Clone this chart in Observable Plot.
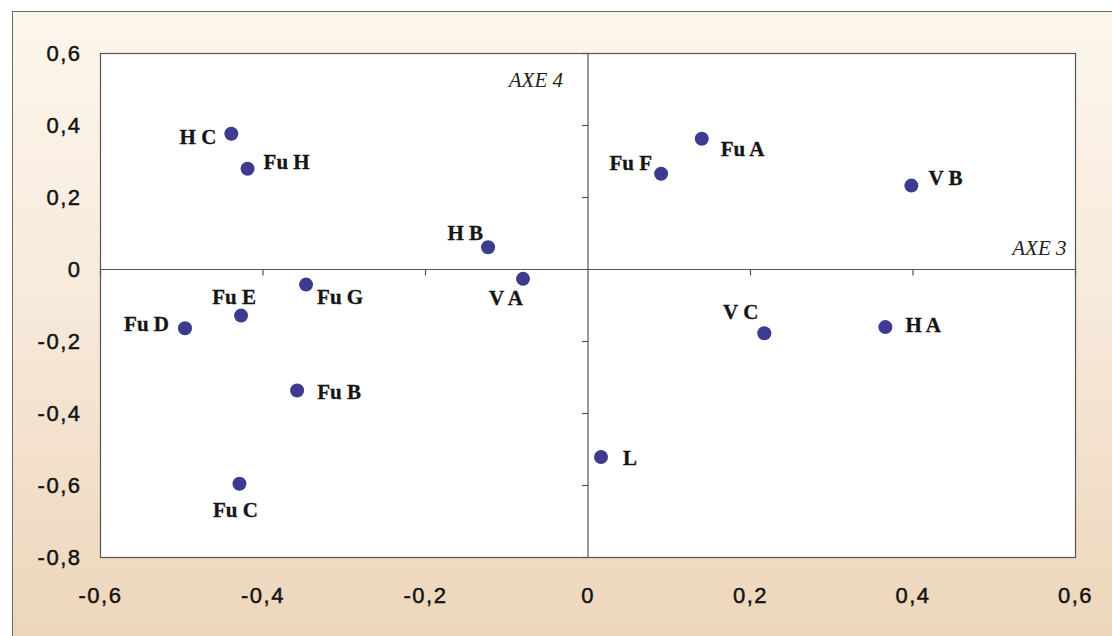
<!DOCTYPE html>
<html>
<head>
<meta charset="utf-8">
<script src="https://cdn.jsdelivr.net/npm/d3@7"></script>
<script src="https://cdn.jsdelivr.net/npm/@observablehq/plot@0.6"></script>
<style>
  html, body { margin: 0; padding: 0; background: #ffffff; overflow: hidden; }
  #wrap { position: relative; width: 1112px; height: 636px; }
  #bg {
    position: absolute; left: 12px; top: 11px; right: -2px; bottom: -2px;
    border-left: 1.5px solid #6a6a6a; border-top: 1.5px solid #6a6a6a;
    background: linear-gradient(to bottom, #fcf6ec 0%, #f7eadb 45%, #edd6bb 100%);
  }
  #chart { position: absolute; left: 0; top: 0; }
  #chart svg g[aria-label="x-axis tick label"] text,
  #chart svg g[aria-label="y-axis tick label"] text { letter-spacing: 1.5px; stroke: #111; stroke-width: 0.45px; }
  #chart svg g.pt-label text { stroke: #151515; stroke-width: 0.3px; }
</style>
</head>
<body>
<div id="wrap"><div id="bg"></div><div id="chart"></div></div>
<script>
// Data: factorial plane, AXE 3 (horizontal) x AXE 4 (vertical)
const names = ["H A","H B","H C","V A","V B","V C","L","Fu A","Fu B","Fu C","Fu D","Fu E","Fu F","Fu G","Fu H"];
const axe3  = [0.366,-0.123,-0.439,-0.080,0.398,0.217,0.016,0.140,-0.358,-0.429,-0.496,-0.427,0.090,-0.347,-0.419];
const axe4  = [-0.160,0.062,0.377,-0.026,0.233,-0.177,-0.521,0.363,-0.336,-0.595,-0.163,-0.128,0.266,-0.042,0.280];
const xTicks = [-0.6,-0.4,-0.2,0,0.2,0.4,0.6];
const yTicks = [-0.8,-0.6,-0.4,-0.2,0,0.2,0.4,0.6];
const axisNames = ["AXE 3","AXE 4"];

// Label placement (layout only): [dx, dy, anchor]
const labelPlacement = {
  "H A": [20, -2, "start"], "H B": [-5, -14, "end"], "H C": [-15, 3, "end"],
  "V A": [0, 19, "end"], "V B": [17, -7, "start"], "V C": [-6, -21, "end"],
  "L": [22, 1, "start"], "Fu A": [19, 10, "start"], "Fu B": [20, 2, "start"],
  "Fu C": [-4, 27, "middle"], "Fu D": [-16, -4, "end"], "Fu E": [-7, -18, "middle"],
  "Fu F": [-9, -10, "end"], "Fu G": [11, 13, "start"], "Fu H": [16, -6, "start"]
};

const points = names.map((n, i) => ({name: n, x: axe3[i], y: axe4[i]}));
const fmt = d => d === 0 ? "0" : d.toFixed(1).replace(".", ",");

const vTick = {draw(ctx) { ctx.moveTo(0, 0); ctx.lineTo(0, 6); }};
const hTick = {draw(ctx) { ctx.moveTo(0, 0); ctx.lineTo(-6, 0); }};

const labelFont = {fontFamily: "'Liberation Serif', 'Times New Roman', serif", fontWeight: "bold", fontSize: 21, fill: "#151515", className: "pt-label"};

const chart = Plot.plot({
  width: 1112,
  height: 636,
  marginLeft: 100,
  marginRight: 37,
  marginTop: 53,
  marginBottom: 79,
  style: {background: "transparent", overflow: "visible", fontSize: "22px", fontFamily: "'Liberation Sans', Arial, sans-serif"},
  x: {domain: [-0.6, 0.6]},
  y: {domain: [-0.8, 0.6]},
  marks: [
    Plot.frame({fill: "white", stroke: "#555", strokeWidth: 1.2}),
    Plot.ruleX([0], {stroke: "#555", strokeWidth: 1.2}),
    Plot.ruleY([0], {stroke: "#555", strokeWidth: 1.2}),
    Plot.dot(xTicks.filter(d => d !== 0), {x: d => d, y: 0, symbol: vTick, stroke: "#555", strokeWidth: 1.2, fill: "none"}),
    Plot.dot(yTicks.filter(d => d !== 0), {x: 0, y: d => d, symbol: hTick, stroke: "#555", strokeWidth: 1.2, fill: "none"}),
    Plot.axisX(xTicks, {tickSize: 0, tickPadding: 30, tickFormat: fmt, label: null, fill: "#111"}),
    Plot.axisY(yTicks, {tickSize: 0, tickPadding: 19, tickFormat: fmt, label: null, fill: "#111"}),
    Plot.text([axisNames[1]], {x: 0, frameAnchor: "top", text: d => d, textAnchor: "end", dx: -25, dy: 19,
      fontFamily: "'Liberation Serif', 'Times New Roman', serif", fontStyle: "italic", fontSize: 21, fill: "#222"}),
    Plot.text([axisNames[0]], {y: 0, frameAnchor: "right", text: d => d, textAnchor: "end", dx: -9, dy: -21,
      fontFamily: "'Liberation Serif', 'Times New Roman', serif", fontStyle: "italic", fontSize: 21, fill: "#222"}),
    Plot.dot(points, {x: "x", y: "y", r: 7, fill: "#3d3b8f", stroke: "none"}),
    ...points.map(p => {
      const [dx, dy, anchor] = labelPlacement[p.name];
      return Plot.text([p], {x: "x", y: "y", text: "name", dx, dy, textAnchor: anchor, ...labelFont});
    })
  ]
});
document.getElementById("chart").appendChild(chart);
</script>
</body>
</html>
